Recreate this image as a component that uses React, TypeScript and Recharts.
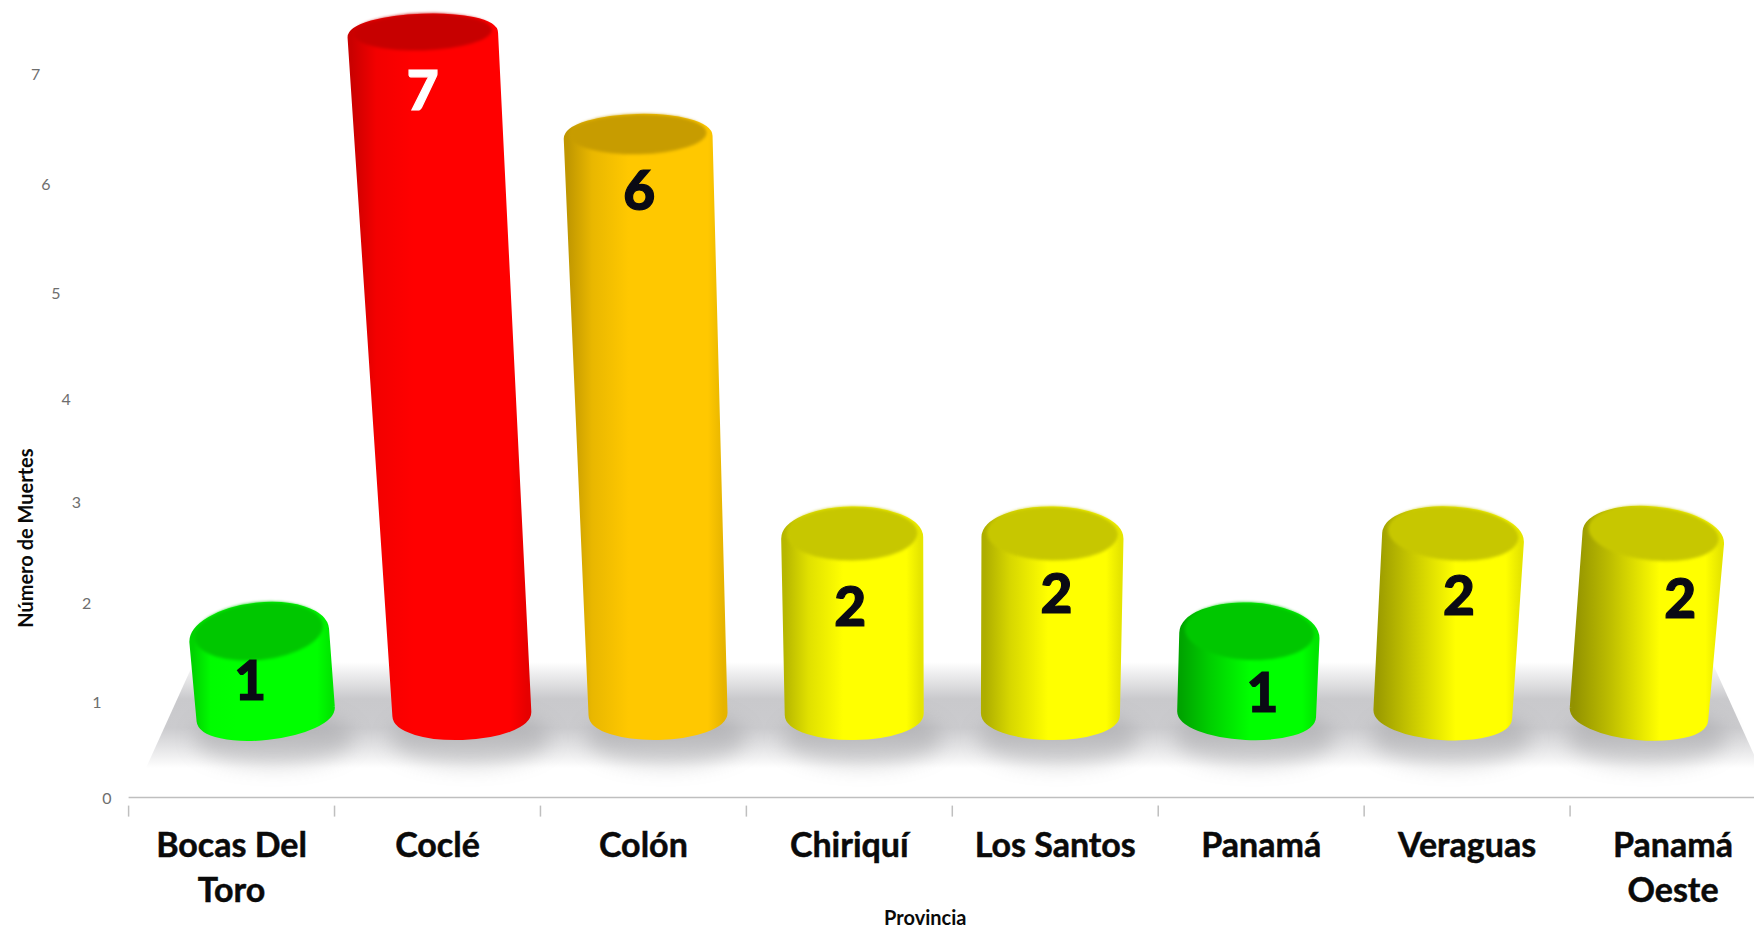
import React from "react";
import { BarChart, Bar, XAxis, YAxis, LabelList } from "recharts";

const provinces = ["Bocas Del Toro", "Coclé", "Colón", "Chiriquí", "Los Santos", "Panamá", "Veraguas", "Panamá Oeste"];
const deaths = [1, 7, 6, 2, 2, 1, 2, 2];
const barColors = ["#00ff00", "#ff0000", "#ffc800", "#ffff00", "#ffff00", "#00ff00", "#ffff00", "#ffff00"];
const labelColors = ["#0a0a14", "#ffffff", "#0a0a14", "#0a0a14", "#0a0a14", "#0a0a14", "#0a0a14", "#0a0a14"];
const yTicks = [0, 1, 2, 3, 4, 5, 6, 7];

// the labels were moved by hand in the original, so they sit off-centre
const labelNudgeX = [-9, 0, 1, -2, 4, 13, 6, 27];
const labelNudgeY = [43, 54, 52, 67, 54, 55, 56, 59];

const data = provinces.map((name, i) => ({ name, value: deaths[i] }));

const CHART_W = 1776;
const CHART_H = 929;
const PLOT_LEFT = 128.6;
const PLOT_BOTTOM = 797.6;
const Y_MAX = 8;
const UNIT = PLOT_BOTTOM / Y_MAX;
const VANISH_X = 952;
const BASE_Y = 716;
const FONT = "Lato, Carlito, sans-serif";

function shade(hex: string, f: number) {
  const n = parseInt(hex.slice(1), 16);
  const c = [(n >> 16) & 255, (n >> 8) & 255, n & 255].map((v) => Math.round(v * Math.min(f, 1)));
  return `rgb(${c[0]},${c[1]},${c[2]})`;
}

// long names go on two lines, last word underneath
function wrapName(name: string) {
  if (name.length <= 10 || !name.includes(" ")) return [name];
  const cut = name.lastIndexOf(" ");
  return [name.slice(0, cut), name.slice(cut + 1)];
}

// fake 3D: turns the flat bar from the scale into the leaning cylinder
function project(x: number, width: number, height: number) {
  const v = height / UNIT;
  const h = -17.1 + 96.7 * v + 0.433 * v * v;
  const baseX = VANISH_X + (x + width / 2 - VANISH_X) * 0.9527;
  const dx = baseX - VANISH_X;
  const topX = baseX + dx * h * 1.17e-4;
  const topY = BASE_Y - h;
  const rx = 69.5 + 0.0085 * h;
  const ry = 35 - 0.02 * h;
  const rot = (dx / 1.1186) * 0.011 * Math.max(0.4, 1 - h / 1000);
  return { baseX, topX, topY, rx, ry, rot, dx };
}

function FloorShadow(props: any) {
  const { x, width, height } = props;
  const p = project(x, width, height);
  return <ellipse cx={p.baseX + 8} cy={BASE_Y + 22} rx={80} ry={28} fill="#8c8c90" opacity={0.36} filter="url(#softBlur)" />;
}

function Cylinder(props: any) {
  const { x, width, height, index } = props;
  const color = barColors[index];
  const p = project(x, width, height);
  const id = `body-${index}`;
  const t = p.dx / 750;
  const left = 0.7 - 0.14 * t;
  const bright = 0.45 + 0.15 * t;
  const a = (p.rot * Math.PI) / 180;
  const cos = Math.cos(a);
  const sin = Math.sin(a);
  // the outline below is stroked round so the cylinder corners come out soft
  const soft = 4;
  const topRx = p.rx - soft;
  const topRy = p.ry - soft;
  const baseRx = 69.5 - soft;
  const baseRy = 26 - soft;
  const baseY = BASE_Y - 2;
  const d = [
    `M ${p.topX - topRx * cos} ${p.topY - topRx * sin}`,
    `A ${topRx} ${topRy} ${p.rot} 0 1 ${p.topX + topRx * cos} ${p.topY + topRx * sin}`,
    `L ${p.baseX + baseRx * cos} ${baseY + baseRx * sin}`,
    `A ${baseRx} ${baseRy} ${p.rot} 0 1 ${p.baseX - baseRx * cos} ${baseY - baseRx * sin}`,
    "Z",
  ].join(" ");
  return (
    <g>
      <defs>
        <linearGradient id={id} x1="0" y1="0" x2="1" y2="0">
          <stop offset="0" stopColor={shade(color, left)} />
          <stop offset={bright * 0.4} stopColor={shade(color, left + 0.16)} />
          <stop offset={bright} stopColor={shade(color, 1)} />
          <stop offset="0.9" stopColor={shade(color, 1)} />
          <stop offset="1" stopColor={shade(color, 0.9)} />
        </linearGradient>
      </defs>
      <path d={d} fill={`url(#${id})`} stroke={`url(#${id})`} strokeWidth={soft * 2} strokeLinejoin="round" />
      <ellipse
        cx={p.topX}
        cy={p.topY - p.ry * 0.14}
        rx={p.rx * 0.92}
        ry={p.ry * 0.86}
        fill={shade(color, 0.78)}
        transform={`rotate(${p.rot} ${p.topX} ${p.topY})`}
        filter="url(#edgeBlur)"
      />
    </g>
  );
}

function ValueLabel(props: any) {
  const { x, width, height, index, value } = props;
  const p = project(x, width, height);
  return (
    <text
      x={p.topX + labelNudgeX[index]}
      y={p.topY + labelNudgeY[index]}
      textAnchor="middle"
      dominantBaseline="central"
      fontFamily={FONT}
      fontWeight={900}
      fontSize={55}
      fill={labelColors[index]}
      stroke={labelColors[index]}
      strokeWidth={1.2}
    >
      {value}
    </text>
  );
}

function CategoryTick(props: any) {
  const { x, y, payload, index } = props;
  const band = (CHART_W - PLOT_LEFT) / provinces.length;
  return (
    <g>
      <line x1={x - band / 2} x2={x - band / 2} y1={y} y2={y + 11} stroke="#bfbfbf" strokeWidth={1.5} />
      {index === provinces.length - 1 && (
        <line x1={x + band / 2} x2={x + band / 2} y1={y} y2={y + 11} stroke="#bfbfbf" strokeWidth={1.5} />
      )}
      <text textAnchor="middle" fontFamily={FONT} fontWeight={700} fontSize={34} fill="#0a0a0a" stroke="#0a0a0a" strokeWidth={0.5}>
        {wrapName(payload.value).map((line, i) => (
          <tspan key={line} x={x} y={y + 51 + i * 45.5}>
            {line}
          </tspan>
        ))}
      </text>
    </g>
  );
}

// value axis is drawn in perspective, the labels drift left as they go up
function ValueTick(props: any) {
  const v = props.payload.value;
  return (
    <text
      x={107 - 10.2 * v}
      y={PLOT_BOTTOM - (95.1 * v + 1.2 * v * v)}
      textAnchor="middle"
      dominantBaseline="central"
      fontFamily={FONT}
      fontSize={16}
      fill="#6e6e6e"
    >
      {v}
    </text>
  );
}

export default function App() {
  return (
    <div style={{ position: "absolute", left: 0, top: 0, width: 1754, height: 929, overflow: "hidden", background: "#fff" }}>
      <BarChart
        width={CHART_W}
        height={CHART_H}
        data={data}
        margin={{ top: 0, right: 0, bottom: 0, left: PLOT_LEFT - 2 }}
        barSize={100}
        barGap={-100}
      >
        <defs>
          <filter id="softBlur" x="-40%" y="-80%" width="180%" height="260%">
            <feGaussianBlur stdDeviation="10" />
          </filter>
          <filter id="edgeBlur" x="-5%" y="-10%" width="110%" height="120%">
            <feGaussianBlur stdDeviation="1.6" />
          </filter>
          <linearGradient id="floorFill" x1="0" y1="0" x2="0" y2="1">
            <stop offset="0" stopColor="#c9c9cc" stopOpacity="0" />
            <stop offset="0.35" stopColor="#c9c9cc" />
            <stop offset="0.62" stopColor="#cbcbce" />
            <stop offset="1" stopColor="#c9c9cc" stopOpacity="0" />
          </linearGradient>
        </defs>
        <polygon points="194,662 146,768 1760,768 1712,662" fill="url(#floorFill)" />
        <XAxis
          dataKey="name"
          height={CHART_H - PLOT_BOTTOM}
          interval={0}
          axisLine={{ stroke: "#bfbfbf", strokeWidth: 1.5 }}
          tickLine={false}
          tick={<CategoryTick />}
          label={{ value: "Provincia", position: "insideBottom", offset: 4, dx: -27, fontFamily: FONT, fontWeight: 700, fontSize: 20, fill: "#0a0a0a" }}
        />
        <YAxis
          type="number"
          width={2}
          domain={[0, Y_MAX]}
          ticks={yTicks}
          axisLine={false}
          tickLine={false}
          tick={<ValueTick />}
          label={{ value: "Número de Muertes", angle: -90, position: "insideLeft", dx: -106, dy: 229, fontFamily: FONT, fontWeight: 700, fontSize: 20, fill: "#0a0a0a" }}
        />
        <Bar dataKey="value" shape={<FloorShadow />} isAnimationActive={false} />
        <Bar dataKey="value" shape={<Cylinder />} isAnimationActive={false}>
          <LabelList dataKey="value" content={<ValueLabel />} />
        </Bar>
      </BarChart>
    </div>
  );
}
